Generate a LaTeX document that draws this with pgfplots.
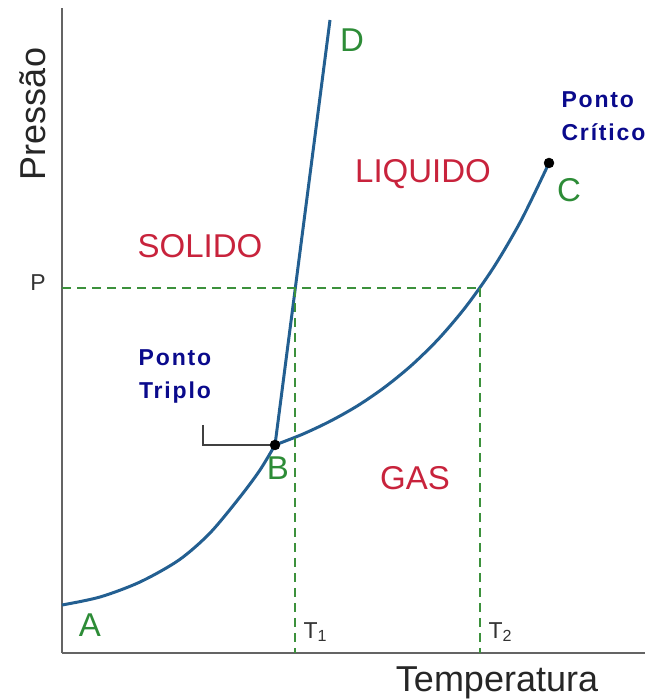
\documentclass[border=0pt]{standalone}
\usepackage{pgfplots}
\pgfplotsset{compat=1.18}
\usepackage{fontspec}
\setmainfont{Liberation Sans}

\definecolor{curva}{RGB}{35,95,145}
\definecolor{fase}{RGB}{200,35,60}
\definecolor{letra}{RGB}{45,140,55}
\definecolor{tracejado}{RGB}{60,145,60}
\definecolor{ponto}{RGB}{10,10,140}
\definecolor{eixo}{RGB}{100,100,100}

\begin{document}
\begin{tikzpicture}
\begin{axis}[
    x=1pt, y=1pt,
    xmin=0, xmax=583, ymin=0, ymax=645,
    axis x line=bottom, axis y line=left,
    axis line style={-, draw=eixo, line width=2.2pt},
    ticks=none,
    clip=false,
]
% curva de sublimacao A-B
\addplot[curva, line width=3pt, smooth] coordinates {
    (0,48) (38,56) (78,71) (117,93) (148,120) (178,156) (198,183) (213,208)
};
% curva de vaporizacao B-C
\addplot[curva, line width=3pt, smooth] coordinates {
    (213,208) (240.4,218.7) (267.8,231.6) (295.2,247.0) (322.6,265.7) (350,288.1)
    (377.4,315.0) (404.8,347.5) (432.2,386.5) (459.6,433.5) (487,490)
};
% curva de fusao B-D
\addplot[curva, line width=3pt] coordinates {(213,208) (268,633)};

% linhas tracejadas
\addplot[tracejado, line width=2.2pt, dash pattern=on 9pt off 6pt] coordinates {(0,365) (418,365)};
\addplot[tracejado, line width=2.2pt, dash pattern=on 9pt off 6pt] coordinates {(233,365) (233,0)};
\addplot[tracejado, line width=2.2pt, dash pattern=on 9pt off 6pt] coordinates {(418,365) (418,0)};

% linha de chamada do ponto triplo
\addplot[black!75, line width=1.8pt] coordinates {(141,228) (141,208) (213,208)};

% pontos triplo e critico
\addplot[only marks, mark=*, mark size=5pt, black] coordinates {(213,208) (487,490)};

\coordinate (bl) at (axis cs:-62,-47);
\coordinate (tr) at (axis cs:589,653);

\begin{scope}[font=\fontsize{33}{36}\selectfont]
\node[letra] at (axis cs:28,28) {A};
\node[letra] at (axis cs:216,185) {B};
\node[letra] at (axis cs:507,463) {C};
\node[letra] at (axis cs:290,613) {D};
\node[fase] at (axis cs:138,407) {SOLIDO};
\node[fase] at (axis cs:361,479) {LIQUIDO};
\node[fase] at (axis cs:353,175) {GAS};
\node[black!85, font=\fontsize{36}{40}\selectfont] at (axis cs:435,-30) {Temperatura};
\node[black!85, rotate=90, font=\fontsize{36}{40}\selectfont] at (axis cs:-29,539) {Pressão};
\end{scope}

\begin{scope}[font=\fontsize{23}{33}\selectfont]
\node[black!80] at (axis cs:-24,370) {P};
\node[black!80, anchor=west] at (axis cs:238,21) {T\textsubscript{1}};
\node[black!80, anchor=west] at (axis cs:423,21) {T\textsubscript{2}};
\node[ponto, font=\fontsize{23}{33}\selectfont\bfseries\addfontfeatures{LetterSpace=8}, align=center] at (axis cs:113,277) {Ponto\\Triplo};
\node[ponto, font=\fontsize{23}{33}\selectfont\bfseries\addfontfeatures{LetterSpace=8}, align=left, anchor=west] at (axis cs:496,537) {Ponto\\Crítico};
\end{scope}
\end{axis}
\pgfresetboundingbox
\useasboundingbox (bl) rectangle (tr);
\end{tikzpicture}
\end{document}
